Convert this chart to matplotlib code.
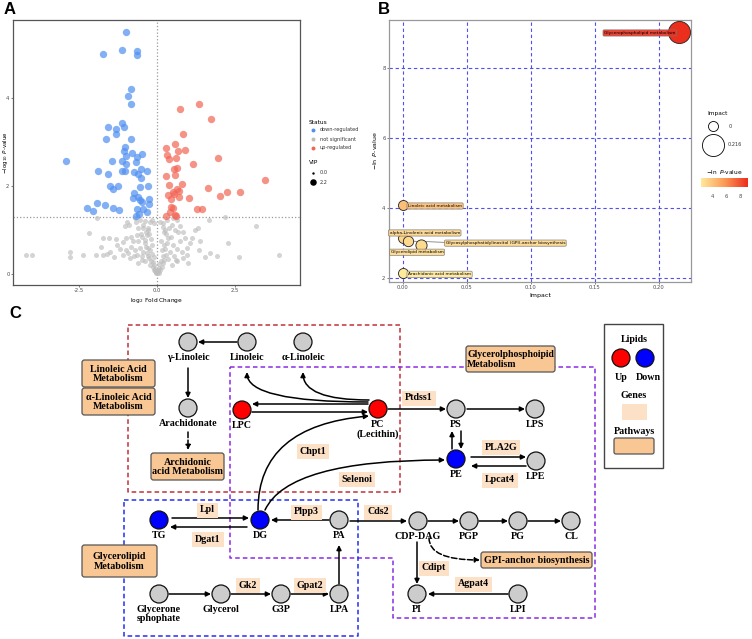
import matplotlib
matplotlib.use('Agg')
import matplotlib.pyplot as plt
import matplotlib as mpl
from matplotlib.patches import Circle, FancyBboxPatch, Rectangle, FancyArrowPatch
from matplotlib.colors import LinearSegmentedColormap, Normalize

# ---------------- Panel A: volcano plot data (log2 FC, -log10 P) ----------------
down_fc = [-1.00, -1.75, -1.12, -0.65, -0.65, -0.83, -0.92, -0.85, -1.57, -1.31, -1.05, -1.33,
           -1.11, -1.64, -0.84, -1.02, -1.07, -0.80, -0.48, -0.98, -0.65, -2.93, -1.45, -1.11,
           -0.68, -1.00, -0.50, -0.33, -1.89, -1.59, -1.02, -1.11, -0.74, -0.61, -0.50, -1.51,
           -1.26, -1.42, -0.56, -0.29, -0.74, -0.76, -0.61, -0.55, -0.48, -0.27, -1.92, -1.68,
           -2.24, -2.06, -1.42, -1.22, -0.63, -0.59, -0.33, -0.44, -0.68, -0.27]
down_p = [5.50, 5.00, 5.09, 5.08, 4.99, 4.20, 4.05, 3.86, 3.34, 3.29, 3.35, 3.19,
          3.43, 3.07, 3.08, 2.90, 2.81, 2.76, 2.73, 2.69, 2.66, 2.57, 2.57, 2.57,
          2.54, 2.50, 2.38, 2.35, 2.35, 2.28, 2.35, 2.34, 2.32, 2.27, 2.18, 2.00,
          2.01, 1.94, 1.97, 2.00, 1.85, 1.74, 1.75, 1.69, 1.63, 1.71, 1.61, 1.56,
          1.50, 1.43, 1.50, 1.46, 1.48, 1.37, 1.40, 1.47, 1.32, 1.59]

up_fc = [1.34, 0.73, 1.74, 0.83, 0.30, 0.57, 0.89, 0.31, 0.61, 0.40, 0.68, 1.17, 1.95, 0.65,
         0.54, 0.29, 0.57, 0.79, 0.40, 0.63, 0.53, 0.71, 0.35, 0.55, 1.02, 0.44, 0.70, 1.63,
         2.24, 2.02, 2.66, 3.48, 1.28, 1.44, 0.44, 0.53, 0.42, 0.57, 0.29, 0.61]
up_p = [3.86, 3.75, 3.52, 3.18, 2.87, 2.95, 2.82, 2.70, 2.65, 2.61, 2.81, 2.50, 2.63, 2.41,
        2.38, 2.23, 2.26, 2.05, 2.03, 1.94, 1.87, 1.90, 1.80, 1.81, 1.73, 1.71, 1.76, 1.95,
        1.86, 1.77, 1.86, 2.15, 1.49, 1.48, 1.53, 1.50, 1.42, 1.34, 1.32, 1.32]

ns_fc = [-4.20, -4.03, -2.80, -2.80, -2.37, -2.19, -1.96, -1.92, -1.81, -1.73, -1.53, -1.62,
         -1.75, -1.38, -1.32, -1.51, -1.30, -1.08, -0.98, -0.95, -1.03, -0.89, -1.01, -0.92,
         -0.82, -0.76, -0.65, -0.60, -0.68, -0.53, -0.44, -0.49, -0.39, -0.33, -0.28, -0.23,
         -0.17, -0.65, -0.60, -0.49, -0.44, -0.35, -0.31, -0.25, -0.23, -0.14, -0.10, -0.03,
         -0.01, 0.04, 0.10, 0.15, 0.20, 0.23, 0.29, 0.26, 0.31, 0.36, 0.23, 0.20, 0.31, 0.47,
         0.45, 0.58, 0.63, 0.63, 0.74, 0.79, 0.85, 0.90, 1.06, 1.12, 1.22, 1.33, 1.38, 1.36,
         1.55, 1.71, 1.68, 1.92, 2.19, 2.30, 2.65, 3.18, 3.94, 0.50, 0.69, 0.95, 0.61, 0.47,
         -0.71, -0.87, -1.08, -1.19,
         -0.30, -0.25, -0.20, -0.35, -0.40, -0.30, -0.22, -0.15, -0.28, -0.20, -0.12, -0.08,
         -0.05, 0.05, 0.08, 0.12, 0.18, 0.15, 0.22, 0.12, 0.30, 0.40, 0.18, -0.45, -0.52,
         -0.60, -0.55, -0.48, -0.38, 0.35, 0.42, 0.50, 0.55, 0.65, -0.70, -0.75, -0.85,
         -0.15, -0.10, 0.02, -0.02, 0.06, -0.06, 0.25, 0.10, -0.10, -0.38, 0.75, 0.85, 0.95, 1.00]
ns_p = [0.43, 0.43, 0.51, 0.39, 0.43, 0.94, 0.43, 1.28, 0.61, 0.83, 0.83, 0.46,
        0.43, 0.39, 0.79, 0.51, 0.66, 0.72, 0.83, 1.18, 1.10, 1.12, 0.55, 0.47,
        0.62, 0.74, 0.89, 1.04, 1.19, 1.23, 1.12, 0.85, 0.77, 0.89, 1.00, 1.19,
        1.23, 0.43, 0.24, 0.32, 0.51, 0.62, 0.47, 0.36, 0.20, 0.17, 0.09, 0.05,
        0.02, 0.05, 0.09, 0.17, 0.24, 0.32, 0.43, 0.58, 0.70, 0.81, 0.96, 1.15, 1.23, 1.12,
        0.85, 1.00, 1.23, 0.58, 0.74, 0.51, 0.36, 0.81, 0.70, 0.81, 1.00, 1.04, 0.74, 0.55,
        0.39, 0.47, 1.23, 0.41, 1.29, 0.70, 0.39, 1.09, 0.43, 1.27, 0.96, 0.43, 0.32, 0.20,
        1.27, 0.36, 0.43, 0.58,
        1.05, 0.90, 0.80, 0.95, 0.70, 0.60, 0.55, 0.45, 0.40, 0.30, 0.28, 0.20,
        0.12, 0.13, 0.22, 0.30, 0.40, 0.55, 0.65, 0.75, 0.90, 1.05, 1.08, 1.05, 0.92,
        0.75, 0.60, 0.40, 0.30, 0.35, 0.50, 0.65, 0.40, 0.30, 0.55, 0.40, 0.85,
        0.65, 0.38, 0.08, 0.03, 0.03, 0.06, 1.00, 1.18, 1.15, 1.20, 1.10, 0.95, 0.60, 0.25]

# ---------------- Panel B: pathway analysis data ----------------
pathways = ['Glycerophospholipid metabolism', 'Linoleic acid metabolism',
            'alpha-Linolenic acid metabolism',
            'Glycosylphosphatidylinositol (GPI)-anchor biosynthesis',
            'Glycerolipid metabolism', 'Arachidonic acid metabolism']
impact = [0.216, 0.0, 0.0, 0.004, 0.014, 0.0]
neg_ln_p = [9.03, 4.09, 3.14, 3.06, 2.94, 2.14]

# ---------------- Figure ----------------
W, H = 752, 639
fig = plt.figure(figsize=(W / 100, H / 100), dpi=100)

def frac(x0, y0, x1, y1):
    return [x0 / W, 1 - y1 / H, (x1 - x0) / W, (y1 - y0) / H]

tick_kw = dict(labelsize=3.8, colors='#4d4d4d', length=1.5, width=0.5, pad=1)

# ---- A ----
axA = fig.add_axes(frac(13, 20, 300, 285))
axA.scatter(ns_fc, ns_p, s=13, color='#bdbdbd', alpha=0.65, lw=0, zorder=2)
axA.scatter(down_fc, down_p, s=28, color='#4f8ff0', alpha=0.7, lw=0, zorder=3)
axA.scatter(up_fc, up_p, s=28, color='#f26555', alpha=0.7, lw=0, zorder=3)
axA.axvline(0, color='#9a9a9a', ls=':', lw=0.9, zorder=1)
axA.axhline(1.301, color='#9a9a9a', ls=':', lw=0.9, zorder=1)
axA.set_xlim(-4.63, 4.60)
axA.set_ylim(-0.25, 5.78)
axA.set_xticks([-2.5, 0, 2.5])
axA.set_xticklabels(['-2.5', '0.0', '2.5'])
axA.set_yticks([0, 2, 4])
axA.tick_params(**tick_kw)
for s in axA.spines.values():
    s.set_color('#555555')
    s.set_linewidth(0.9)
axA.set_xlabel(r'$\log_{2}$ Fold Change', fontsize=4.2, labelpad=1.5)
axA.set_ylabel(r'$-\log_{10}\ \mathit{P}$-value', fontsize=4.0)
axA.yaxis.set_label_coords(-0.012, 0.5)

# ---- B ----
cmap = LinearSegmentedColormap.from_list('lnp', ['#ffe99c', '#fc9a55', '#ec2c1c'])
norm = Normalize(vmin=2.3, vmax=9.1)
axB = fig.add_axes(frac(389, 20, 691, 282))
for xv in [0, 0.05, 0.10, 0.15, 0.20]:
    axB.axvline(xv, color='#5050f0', ls='--', lw=0.8, dashes=(3, 2.5), zorder=1)
for yv in [2, 4, 6, 8]:
    axB.axhline(yv, color='#5050f0', ls='--', lw=0.8, dashes=(3, 2.5), zorder=1)
sizes = [52 + 200 * v / 0.216 for v in impact]
cols = [cmap(norm(v)) for v in neg_ln_p]
order = [0, 1, 2, 5, 4, 3]
for i in order:
    axB.scatter(impact[i], neg_ln_p[i], s=sizes[i], color=cols[i], ec='#222222', lw=0.6, zorder=3)
# labels (repelled positions)
lab_pos = [(0.185, 9.0, 'center'), (0.004, 4.06, 'left'), (0.017, 3.29, 'center'),
           (0.080, 3.0, 'center'), (0.011, 2.74, 'center'), (0.004, 2.11, 'left')]
for i, (lx, ly, ha) in enumerate(lab_pos):
    if i == 3:
        axB.plot([impact[i], lx - 0.03], [neg_ln_p[i], ly], color='#666666', lw=0.5, zorder=2)
    axB.text(lx, ly, pathways[i], fontsize=3.2, ha=ha, va='center', zorder=4,
             bbox=dict(boxstyle='round,pad=0.25', fc=cols[i], ec='#777777', lw=0.5, alpha=0.9))
axB.set_xlim(-0.0109, 0.225)
axB.set_ylim(1.89, 9.37)
axB.set_xticks([0, 0.05, 0.10, 0.15, 0.20])
axB.set_xticklabels(['0.00', '0.05', '0.10', '0.15', '0.20'])
axB.set_yticks([2, 4, 6, 8])
axB.tick_params(**tick_kw)
for s in axB.spines.values():
    s.set_color('#999999')
    s.set_linewidth(0.9)
axB.set_xlabel('Impact', fontsize=4.5, labelpad=1.5)
axB.set_ylabel(r'$-\ln\ \mathit{P}$-value', fontsize=4.5)
axB.yaxis.set_label_coords(-0.032, 0.5)

# colorbar for B
cax = fig.add_axes(frac(701, 178, 748, 187))
cb = mpl.colorbar.ColorbarBase(cax, cmap=cmap, norm=norm, orientation='horizontal')
cb.set_ticks([4, 6, 8])
cb.outline.set_visible(False)
cax.tick_params(labelsize=3.8, colors='#4d4d4d', length=1.5, width=0.5)
cax.tick_params(axis='x', colors='white', labelcolor='#4d4d4d')

# ---- overlay in pixel coordinates ----
ov = fig.add_axes([0, 0, 1, 1])
ov.set_xlim(0, W)
ov.set_ylim(H, 0)
ov.axis('off')

for txt, x, y in [('A', 4, 2), ('B', 378, 2), ('C', 9, 306)]:
    ov.text(x, y, txt, fontsize=12, fontweight='bold', family='Liberation Sans', ha='left', va='top')

# legend A
ov.text(309, 122, 'Status', fontsize=4.2, va='center')
for yy, c, t in [(130, '#4f8ff0', 'down-regulated'), (139, '#bdbdbd', 'not significant'),
                 (148, '#f26555', 'up-regulated')]:
    ov.scatter(313, yy, s=8, color=c, lw=0)
    ov.text(320, yy, t, fontsize=3.6, va='center', color='#333333')
ov.text(309, 163, 'VIP', fontsize=4.2, va='center')
ov.scatter(313, 173, s=3, color='black', lw=0)
ov.scatter(313, 182, s=22, color='black', lw=0)
ov.text(320, 173, '0.0', fontsize=3.6, va='center', color='#333333')
ov.text(320, 182, '2.2', fontsize=3.6, va='center', color='#333333')

# legend B
ov.text(718, 114, 'Impact', fontsize=4.2, ha='center', va='center')
ov.scatter(713, 126, s=52, fc='white', ec='black', lw=0.6)
ov.scatter(713, 145, s=252, fc='white', ec='black', lw=0.6)
ov.text(729, 126, '0', fontsize=3.6, va='center', color='#333333')
ov.text(728, 145, '0.216', fontsize=3.6, va='center', color='#333333')
ov.text(724, 172, r'$-\ln\ \mathit{P}$-value', fontsize=4.2, ha='center', va='center')

# ---------------- Panel C: pathway diagram ----------------
serif = dict(family='Liberation Serif', fontweight='bold', fontsize=7.2)
nodes = {
    'γ-Linoleic': (188, 342, 'n'), 'Linoleic': (247, 342, 'n'), 'α-Linoleic': (303, 342, 'n'),
    'Arachidonate': (188, 408, 'n'), 'LPC': (242, 410, 'up'), 'PC\n(Lecithin)': (378, 409, 'up'),
    'PS': (456, 409, 'n'), 'LPS': (535, 409, 'n'), 'PE': (456, 459, 'down'),
    'LPE': (536, 461, 'n'), 'TG': (159, 520, 'down'), 'DG': (260, 520, 'down'),
    'PA': (339, 520, 'n'), 'CDP-DAG': (418, 521, 'n'), 'PGP': (469, 521, 'n'),
    'PG': (518, 521, 'n'), 'CL': (571, 521, 'n'), 'PI': (417, 594, 'n'), 'LPI': (518, 594, 'n'),
    'Glycerone\nsphophate': (159, 594, 'n'), 'Glycerol': (221, 594, 'n'), 'G3P': (281, 594, 'n'),
    'LPA': (339, 594, 'n'),
}
node_col = {'n': '#cccccc', 'up': '#ff0000', 'down': '#0000ff'}

genes = [('Ptdss1', 419, 398), ('PLA2G', 501, 447), ('Lpcat4', 500, 480), ('Chpt1', 313, 451),
         ('Selenoi', 357, 479), ('Lpl', 207, 510), ('Dgat1', 208, 539), ('Plpp3', 306, 512),
         ('Cds2', 378, 512), ('Gk2', 248, 585), ('Gpat2', 310, 585), ('Cdipt', 434, 568),
         ('Agpat4', 473, 584)]

path_boxes = [('Linoleic Acid\nMetabolism', 82, 360, 155, 387, 'center'),
              ('α-Linoleic Acid\nMetabolism', 82, 388, 155, 415, 'center'),
              ('Archidonic\nacid Metabolism', 151, 453, 224, 480, 'center'),
              ('Glycerolipid\nMetabolism', 82, 545, 157, 577, 'center'),
              ('Glycerolphosphoipid\nMetabolism', 466, 346, 555, 372, 'left'),
              ('GPI-anchor biosynthesis', 481, 552, 592, 568, 'center')]

# dashed region outlines
ov.plot([128, 400, 400, 128, 128], [325, 325, 492, 492, 325], color='#c0303a', ls='--',
        lw=1.1, dashes=(3, 2), zorder=1)
ov.plot([230, 595, 595, 393, 393, 230, 230], [367, 367, 618, 618, 558, 558, 367],
        color='#8a2be2', ls='--', lw=1.1, dashes=(3, 2), zorder=1)
ov.plot([124, 358, 358, 124, 124], [500, 500, 636, 636, 500], color='#2030f0', ls='--',
        lw=1.1, dashes=(3, 2), zorder=1)

for txt, x0, y0, x1, y1, ha in path_boxes:
    ov.add_patch(FancyBboxPatch((x0, y0), x1 - x0, y1 - y0, boxstyle='round,pad=0,rounding_size=2.5',
                                fc='#f9c794', ec='#555555', lw=0.9, zorder=3))
    tx = (x0 + x1) / 2 if ha == 'center' else x0 + 1
    fs = 7.2 if ha == 'center' else 7.0
    ov.text(tx, (y0 + y1) / 2 + 0.5, txt, ha=ha, va='center', linespacing=1.05, zorder=4,
            **{**serif, 'fontsize': fs})

for txt, x, y in genes:
    ov.text(x, y, txt, ha='center', va='center', zorder=4,
            bbox=dict(boxstyle='square,pad=0.3', fc='#fde1c7', ec='none'), **serif)

def arrow(p0, p1, cs='arc3,rad=0', ls='-'):
    ov.add_patch(FancyArrowPatch(p0, p1, arrowstyle='-|>', mutation_scale=7, lw=1.1,
                                 color='black', connectionstyle=cs, linestyle=ls,
                                 shrinkA=0, shrinkB=0, zorder=2))

arrows = [((237, 342), (198, 342)), ((188, 368), (188, 398)),
          ((368, 404), (252, 404)), ((252, 412), (368, 412)),
          ((388, 409), (446, 409)), ((467, 409), (525, 409)),
          ((452, 449), (452, 431)), ((461, 431), (461, 449)),
          ((471, 457), (526, 457)), ((526, 466), (471, 466)),
          ((172, 518), (249, 518)), ((247, 527), (170, 527)),
          ((329, 520), (271, 520)), ((350, 521), (407, 521)),
          ((428, 521), (459, 521)), ((479, 521), (508, 521)), ((528, 521), (561, 521)),
          ((417, 542), (417, 584)), ((508, 594), (428, 594)),
          ((169, 594), (211, 594)), ((231, 594), (271, 594)), ((291, 594), (329, 594)),
          ((339, 584), (339, 545))]
for p0, p1 in arrows:
    arrow(p0, p1)
arrow((188, 432), (188, 450), ls='--')
arrow((368, 402), (247, 372), cs='angle3,angleA=180,angleB=90')
arrow((369, 400), (303, 372), cs='angle3,angleA=180,angleB=90')
arrow((258, 510), (369, 416), cs='angle3,angleA=90,angleB=5')
arrow((265, 510), (445, 460), cs='angle3,angleA=65,angleB=0')
arrow((429, 538), (480, 560), cs='angle3,angleA=90,angleB=0', ls='--')

for name, (x, y, st) in nodes.items():
    ov.add_patch(Circle((x, y), 9, fc=node_col[st], ec='#111111', lw=0.9, zorder=5))
    ov.text(x, y + 11, name, ha='center', va='top', linespacing=1.0, zorder=5, **serif)

# legend C
ov.add_patch(Rectangle((604, 324), 59, 144, fc='white', ec='#444444', lw=1.0, zorder=3))
ov.text(634, 340, 'Lipids', ha='center', va='center', zorder=4, **serif)
ov.add_patch(Circle((621, 358), 9, fc='#ff0000', ec='#111111', lw=0.9, zorder=4))
ov.add_patch(Circle((645, 358), 9, fc='#0000ff', ec='#111111', lw=0.9, zorder=4))
ov.text(621, 377, 'Up', ha='center', va='center', zorder=4, **serif)
ov.text(648, 377, 'Down', ha='center', va='center', zorder=4, **serif)
ov.text(634, 395, 'Genes', ha='center', va='center', zorder=4, **serif)
ov.add_patch(Rectangle((622, 404), 25, 16, fc='#fde1c7', ec='none', zorder=4))
ov.text(634, 431, 'Pathways', ha='center', va='center', zorder=4, **serif)
ov.add_patch(FancyBboxPatch((614, 438), 40, 16, boxstyle='round,pad=0,rounding_size=2',
                            fc='#f9c794', ec='#555555', lw=0.9, zorder=4))

fig.savefig('out.png', dpi=100)
